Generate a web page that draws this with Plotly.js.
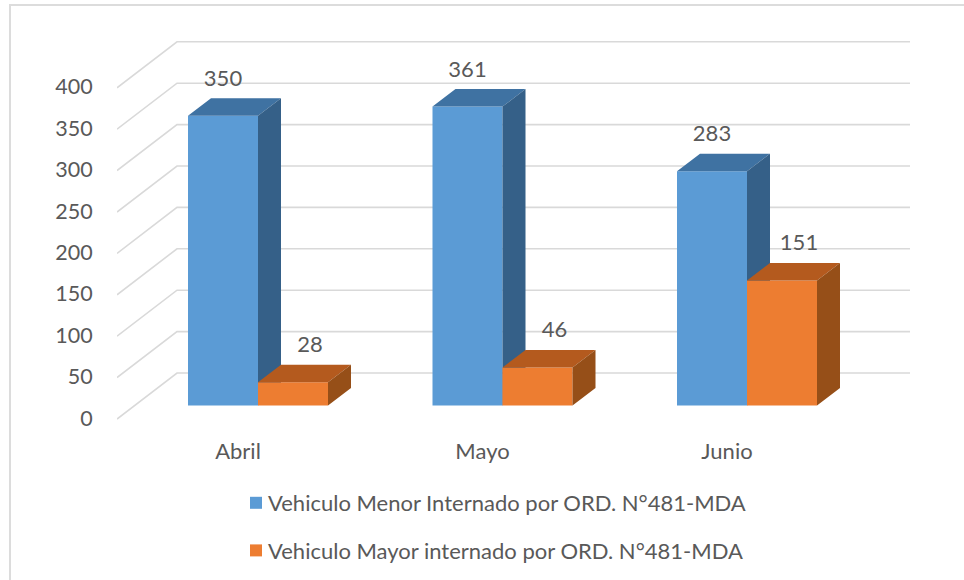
<!DOCTYPE html>
<html>
<head>
<meta charset="utf-8">
<script src="https://cdn.plot.ly/plotly-3.0.1.min.js"></script>
<style>
html,body{margin:0;padding:0;background:#fff;width:964px;height:580px;overflow:hidden}
#chart{position:absolute;left:0;top:0;width:964px;height:580px}
#frame{position:absolute;left:9px;top:4px;right:0;bottom:0;border-left:2px solid #dcdcdc;border-top:2px solid #dcdcdc;pointer-events:none}
</style>
</head>
<body>
<div id="chart"></div>
<div id="frame"></div>
<script>
const categories = ['Abril', 'Mayo', 'Junio'];
const menorValues = [350, 361, 283];
const mayorValues = [28, 46, 151];
const menorName = 'Vehiculo Menor Internado por ORD. N°481-MDA';
const mayorName = 'Vehiculo Mayor internado por ORD. N°481-MDA';
const yTicks = [0, 50, 100, 150, 200, 250, 300, 350, 400];

// Pseudo-3D projection settings, in screen pixels
const W = 964, H = 580;
const plotLeft = 117, plotRight = 910, plotTop = 30, plotBottom = 432;
const catPx = 244.5, cat0Px = 238;      // spacing of categories, first category on the front plane
const unitPx = 0.828, zeroPx = 418;     // px per value unit, axis zero
const xU = px => px / catPx;
const yU = px => px / unitPx;
const xRange = [(plotLeft - cat0Px) / catPx, (plotRight - cat0Px) / catPx];
const yRange = [(zeroPx - plotBottom) / unitPx, (zeroPx - plotTop) / unitPx];

const barW = xU(70), barBase = yU(12.5), depthX = xU(23), depthY = yU(17.5);
const menorShift = xU(-15), mayorShift = xU(55);
const labelFont = {family: 'Lato, "Open Sans", sans-serif', size: 22, color: '#595959'};
const yTickFont = {family: 'Lato, "Open Sans", sans-serif', size: 21.5, color: '#595959'};

function faces(values, shift) {
  const top = {x: [], y: []}, side = {x: [], y: []};
  values.forEach((v, i) => {
    const l = i + shift - barW / 2, r = i + shift + barW / 2;
    const t = barBase + v, b = barBase;
    top.x.push(l, l + depthX, r + depthX, r, l, null);
    top.y.push(t, t + depthY, t + depthY, t, t, null);
    side.x.push(r, r + depthX, r + depthX, r, r, null);
    side.y.push(t, t + depthY, b + depthY, b, t, null);
  });
  return {top, side};
}
function polyTrace(p, color, axes) {
  return {type: 'scatter', mode: 'lines', x: p.x, y: p.y, fill: 'toself', fillcolor: color,
    line: {width: 0, color: color}, hoverinfo: 'skip', showlegend: false, xaxis: axes[0], yaxis: axes[1]};
}
function barTrace(values, shift, color, name, axes) {
  return {type: 'bar', name: name, legendgroup: name, x: values.map((_, i) => i + shift), y: values,
    base: values.map(() => barBase), width: barW, marker: {color: color, line: {width: 0}},
    hovertemplate: '%{y}<extra>' + name + '</extra>', xaxis: axes[0], yaxis: axes[1]};
}
function labelTrace(values, shift, dxPx, axes) {
  return {type: 'scatter', mode: 'text', x: values.map((_, i) => i + shift + xU(dxPx)),
    y: values.map(v => barBase + v + depthY + yU(18)), text: values.map(String),
    textposition: 'middle center', textfont: labelFont, cliponaxis: false,
    hoverinfo: 'skip', showlegend: false, xaxis: axes[0], yaxis: axes[1]};
}

// Grid lines: front-left stub running up to the back wall, then across it
const wallX = xU(60), wallY = yU(45), stubY = yU(1);
const gridX = [], gridY = [];
yTicks.forEach(v => {
  gridX.push(xRange[0], xRange[0] + wallX, xRange[1], null);
  gridY.push(v - stubY, v + wallY, v + wallY, null);
});
const gridTrace = {type: 'scatter', mode: 'lines', x: gridX, y: gridY,
  line: {color: '#d9d9d9', width: 1.6}, hoverinfo: 'skip', showlegend: false, cliponaxis: false};

const bluePlane = ['x2', 'y2'], orangePlane = ['x3', 'y3'];
const fM = faces(menorValues, menorShift), fY = faces(mayorValues, mayorShift);
const traces = [
  gridTrace,
  barTrace(menorValues, menorShift, '#5b9bd5', menorName, bluePlane),
  polyTrace(fM.top, '#3f72a2', bluePlane),
  polyTrace(fM.side, '#356088', bluePlane),
  barTrace(mayorValues, mayorShift, '#ed7d31', mayorName, orangePlane),
  polyTrace(fY.top, '#b45a1e', orangePlane),
  polyTrace(fY.side, '#964f18', orangePlane),
  labelTrace(menorValues, menorShift, 0, orangePlane),
  labelTrace(mayorValues, mayorShift, 17, orangePlane)
];

const hiddenX = {range: xRange, visible: false, fixedrange: true};
const hiddenY = {range: yRange, visible: false, fixedrange: true};
const layout = {
  width: W, height: H,
  margin: {l: plotLeft, r: W - plotRight, t: plotTop, b: H - plotBottom, pad: 0, autoexpand: false},
  paper_bgcolor: 'rgba(0,0,0,0)', plot_bgcolor: 'rgba(0,0,0,0)',
  barmode: 'overlay',
  showlegend: true,
  legend: {x: (228 - plotLeft) / (plotRight - plotLeft), xanchor: 'left',
    y: (plotBottom - 482) / (plotBottom - plotTop), yanchor: 'top',
    traceorder: 'grouped', tracegroupgap: 16, font: labelFont, bgcolor: 'rgba(0,0,0,0)'},
  xaxis: {range: xRange, tickvals: categories.map((_, i) => i), ticktext: categories,
    showgrid: false, zeroline: false, showline: false, ticks: 'outside', ticklen: 0,
    tickfont: labelFont, fixedrange: true},
  yaxis: {range: yRange, tickvals: yTicks, showgrid: false, zeroline: false, showline: false,
    ticks: 'outside', ticklen: 19, tickcolor: 'rgba(0,0,0,0)', tickfont: yTickFont, fixedrange: true},
  xaxis2: Object.assign({overlaying: 'x', anchor: 'y2'}, hiddenX),
  yaxis2: Object.assign({overlaying: 'y', anchor: 'x2'}, hiddenY),
  xaxis3: Object.assign({overlaying: 'x', anchor: 'y3'}, hiddenX),
  yaxis3: Object.assign({overlaying: 'y', anchor: 'x3'}, hiddenY)
};
Plotly.newPlot('chart', traces, layout, {displayModeBar: false, responsive: false}).then(() => {
  // Bring the square swatches closer to the legend text
  document.querySelectorAll('.legend .legendsymbols').forEach(g => g.setAttribute('transform', 'translate(8,0)'));
});
</script>
</body>
</html>
